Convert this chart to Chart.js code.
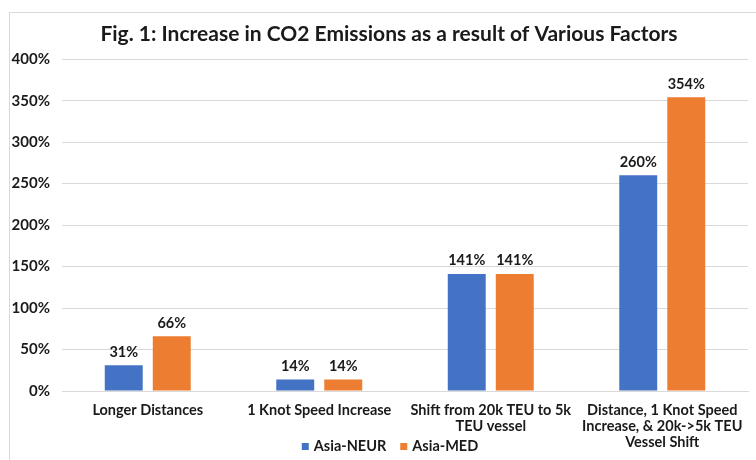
<!DOCTYPE html>
<html>
<head>
<meta charset="utf-8">
<script src="https://cdn.jsdelivr.net/npm/chart.js@4"></script>
<style>
  body { margin: 0; background: #fff; }
  #marco { position: absolute; left: 9px; top: 12px; width: 760px; height: 460px; border: 1px solid #d9d9d9; }
  #caja { position: absolute; left: 0; top: 0; width: 756px; height: 460px; }
</style>
</head>
<body>
<div id="marco"></div>
<div id="caja"><canvas id="grafico" width="756" height="460"></canvas></div>
<script>
const categorias = [
    ['Longer Distances'],
    ['1 Knot Speed Increase'],
    ['Shift from 20k TEU to 5k', 'TEU vessel'],
    ['Distance, 1 Knot Speed', 'Increase, & 20k->5k TEU', 'Vessel Shift']
]
const asiaNeur = [31, 14, 141, 260]
const asiaMed = [66, 14, 141, 354]
const ticksY = [0, 50, 100, 150, 200, 250, 300, 350, 400]

const fuente = 'Lato, "Open Sans", sans-serif'

// etiquetas de valor encima de cada barra
const etiquetasValor = {
    id: 'etiquetasValor',
    afterDatasetsDraw(chart) {
        const ctx = chart.ctx
        ctx.save()
        ctx.font = `bold 14.5px ${fuente}`
        ctx.fillStyle = '#1a1a1a'
        ctx.textAlign = 'center'
        ctx.textBaseline = 'bottom'
        chart.data.datasets.forEach((ds, i) => {
            chart.getDatasetMeta(i).data.forEach((barra, j) => {
                ctx.fillText(`${ds.data[j]}%`, barra.x, barra.y - 6)
            })
        })
        ctx.restore()
    }
}

// leyenda estilo Excel, pegada al borde inferior
const leyenda = {
    id: 'leyenda',
    afterDraw(chart) {
        const ctx = chart.ctx
        ctx.save()
        ctx.font = `bold 14.5px ${fuente}`
        ctx.textBaseline = 'middle'
        ctx.textAlign = 'left'
        const items = chart.data.datasets.map((ds) => ({
            texto: ds.label,
            color: ds.backgroundColor,
            ancho: 7 + 5 + ctx.measureText(ds.label).width
        }))
        const gap = 14
        const total = items.reduce((s, it) => s + it.ancho, 0) + gap * (items.length - 1)
        let x = 390 - total / 2
        const y = 446
        items.forEach((it) => {
            ctx.fillStyle = it.color
            ctx.fillRect(x, y - 3, 7, 7)
            ctx.fillStyle = '#1a1a1a'
            ctx.fillText(it.texto, x + 12, y)
            x += it.ancho + gap
        })
        ctx.restore()
    }
}

// centrar el título sobre el marco
const moverTitulo = {
    id: 'moverTitulo',
    afterLayout(chart) {
        chart.titleBlock.left += 20
    }
}

const config = {
    type: 'bar',
    data: {
        labels: categorias,
        datasets: [
            { label: 'Asia-NEUR', data: asiaNeur, backgroundColor: '#4472C4' },
            { label: 'Asia-MED', data: asiaMed, backgroundColor: '#ED7D31' }
        ]
    },
    options: {
        responsive: false,
        animation: false,
        categoryPercentage: 0.56,
        barPercentage: 0.79,
        layout: { padding: { left: 10, right: 8, top: 0, bottom: 3 } },
        plugins: {
            title: {
                display: true,
                text: 'Fig. 1: Increase in CO2 Emissions as a result of Various Factors',
                color: '#1a1a1a',
                font: { family: fuente, size: 21, weight: 'bold' },
                padding: { top: 22, bottom: 12 }
            },
            legend: { display: false },
            tooltip: { enabled: false }
        },
        scales: {
            x: {
                grid: { display: false, drawTicks: false },
                border: { color: '#d9d9d9' },
                afterFit: (escala) => { escala.height = 66 },
                ticks: {
                    color: '#1a1a1a',
                    maxRotation: 0,
                    autoSkip: false,
                    padding: 11,
                    font: { family: fuente, size: 14.5, weight: 'bold', lineHeight: 1.1 }
                }
            },
            y: {
                min: 0,
                max: 400,
                afterBuildTicks: (escala) => { escala.ticks = ticksY.map((v) => ({ value: v })) },
                afterFit: (escala) => { escala.width = 52 },
                grid: { color: '#d9d9d9', drawTicks: false },
                border: { display: false },
                ticks: {
                    color: '#1a1a1a',
                    padding: 12,
                    font: { family: fuente, size: 15, weight: 'bold' },
                    callback: (v) => `${v}%`
                }
            }
        }
    },
    plugins: [etiquetasValor, leyenda, moverTitulo]
}

const chart = new Chart(document.querySelector('#grafico'), config)
</script>
</body>
</html>
